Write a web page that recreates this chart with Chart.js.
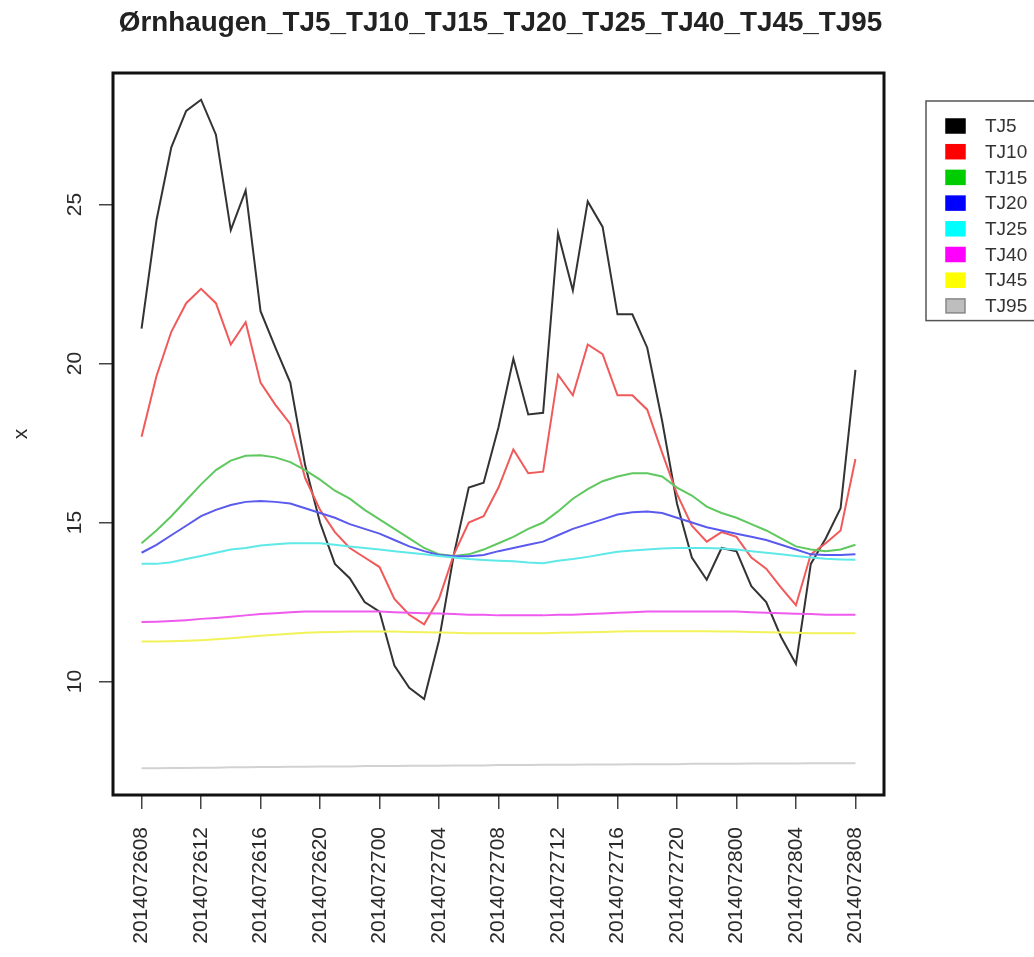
<!DOCTYPE html>
<html>
<head>
<meta charset="utf-8">
<title>Ørnhaugen</title>
<script src="https://cdn.jsdelivr.net/npm/chart.js@4.4.0/dist/chart.umd.min.js"></script>
<style>
  body { margin: 0; background: #fff; }
  canvas { display: block; }
</style>
</head>
<body>
<canvas id="chart" width="1034" height="957"></canvas>
<script>
// ---- data ----
const chartTitle = 'Ørnhaugen_TJ5_TJ10_TJ15_TJ20_TJ25_TJ40_TJ45_TJ95';

const times = [
    '2014072608', '2014072609', '2014072610', '2014072611', '2014072612', '2014072613', '2014072614',
    '2014072615', '2014072616', '2014072617', '2014072618', '2014072619', '2014072620', '2014072621',
    '2014072622', '2014072623', '2014072700', '2014072701', '2014072702', '2014072703', '2014072704',
    '2014072705', '2014072706', '2014072707', '2014072708', '2014072709', '2014072710', '2014072711',
    '2014072712', '2014072713', '2014072714', '2014072715', '2014072716', '2014072717', '2014072718',
    '2014072719', '2014072720', '2014072721', '2014072722', '2014072723', '2014072800', '2014072801',
    '2014072802', '2014072803', '2014072804', '2014072805', '2014072806', '2014072807', '2014072808'
];

const tickLabels = [
    '2014072608', '2014072612', '2014072616', '2014072620', '2014072700', '2014072704', '2014072708',
    '2014072712', '2014072716', '2014072720', '2014072800', '2014072804', '2014072808'
];

const yTicks = [10, 15, 20, 25];

const seriesNames = ['TJ5', 'TJ10', 'TJ15', 'TJ20', 'TJ25', 'TJ40', 'TJ45', 'TJ95'];

const tj5 = [21.1, 24.5, 26.8, 27.95, 28.3, 27.2, 24.2, 25.45, 21.65, 20.5,
    19.4, 16.8, 15.0, 13.7, 13.25, 12.5, 12.2, 10.5, 9.8, 9.45,
    11.3, 14.0, 16.1, 16.25, 18.0, 20.15, 18.4, 18.45, 24.1, 22.3,
    25.1, 24.3, 21.55, 21.55, 20.5, 18.2, 15.6, 13.9, 13.2, 14.2,
    14.1, 13.0, 12.5, 11.4, 10.55, 13.7, 14.5, 15.45, 19.8];

const tj10 = [17.7, 19.6, 21.0, 21.9, 22.35, 21.9, 20.6, 21.3, 19.4, 18.7,
    18.1, 16.4, 15.4, 14.7, 14.2, 13.9, 13.6, 12.6, 12.1, 11.8,
    12.6, 14.0, 15.0, 15.2, 16.1, 17.3, 16.55, 16.6, 19.65, 19.0,
    20.6, 20.3, 19.0, 19.0, 18.55, 17.2, 15.9, 14.9, 14.4, 14.7,
    14.55, 13.9, 13.55, 12.95, 12.4, 14.0, 14.35, 14.75, 17.0];

const tj15 = [14.35, 14.75, 15.2, 15.7, 16.2, 16.65, 16.95, 17.1, 17.12, 17.05,
    16.9, 16.65, 16.35, 16.0, 15.75, 15.4, 15.1, 14.8, 14.5, 14.2,
    14.0, 13.95, 14.0, 14.15, 14.35, 14.55, 14.8, 15.0, 15.35, 15.75,
    16.05, 16.3, 16.45, 16.55, 16.55, 16.45, 16.1, 15.85, 15.5, 15.3,
    15.15, 14.95, 14.75, 14.5, 14.25, 14.15, 14.1, 14.15, 14.3];

const tj20 = [14.05, 14.3, 14.6, 14.9, 15.2, 15.4, 15.55, 15.65, 15.68, 15.65,
    15.6, 15.45, 15.3, 15.15, 14.95, 14.8, 14.65, 14.45, 14.25, 14.1,
    13.98, 13.94, 13.94, 13.98, 14.1, 14.2, 14.3, 14.4, 14.6, 14.8,
    14.95, 15.1, 15.25, 15.32, 15.35, 15.3, 15.15, 15.0, 14.85, 14.75,
    14.65, 14.55, 14.45, 14.3, 14.15, 14.0, 13.98, 13.98, 14.0];

const tj25 = [13.7, 13.7, 13.75, 13.85, 13.95, 14.05, 14.15, 14.2, 14.28, 14.32,
    14.35, 14.35, 14.35, 14.3, 14.25, 14.2, 14.15, 14.1, 14.05, 14.0,
    13.95, 13.9, 13.85, 13.82, 13.8, 13.78, 13.74, 13.72, 13.8, 13.85,
    13.92, 14.0, 14.08, 14.12, 14.15, 14.18, 14.2, 14.2, 14.2, 14.18,
    14.15, 14.1, 14.05, 14.0, 13.95, 13.9, 13.86, 13.84, 13.83];

const tj40 = [11.87, 11.88, 11.9, 11.93, 11.97, 12.0, 12.04, 12.08, 12.12, 12.15,
    12.18, 12.2, 12.2, 12.2, 12.2, 12.2, 12.2, 12.18, 12.16, 12.15,
    12.14, 12.12, 12.1, 12.1, 12.08, 12.08, 12.08, 12.08, 12.1, 12.1,
    12.12, 12.14, 12.16, 12.18, 12.2, 12.2, 12.2, 12.2, 12.2, 12.2,
    12.2, 12.18, 12.16, 12.15, 12.13, 12.12, 12.1, 12.1, 12.1];

const tj45 = [11.26, 11.26, 11.27, 11.28, 11.3, 11.33, 11.36, 11.4, 11.44, 11.47,
    11.5, 11.53, 11.55, 11.56, 11.57, 11.57, 11.57, 11.57, 11.56, 11.55,
    11.54, 11.53, 11.52, 11.52, 11.52, 11.52, 11.52, 11.52, 11.53, 11.54,
    11.55, 11.56, 11.57, 11.58, 11.58, 11.58, 11.58, 11.58, 11.58, 11.57,
    11.57, 11.56, 11.55, 11.54, 11.53, 11.52, 11.52, 11.52, 11.52];

const tj95 = [7.27, 7.27, 7.28, 7.28, 7.29, 7.29, 7.3, 7.3, 7.31, 7.31,
    7.32, 7.32, 7.33, 7.33, 7.33, 7.34, 7.34, 7.34, 7.35, 7.35,
    7.35, 7.36, 7.36, 7.36, 7.37, 7.37, 7.37, 7.38, 7.38, 7.38,
    7.39, 7.39, 7.39, 7.4, 7.4, 7.4, 7.4, 7.41, 7.41, 7.41,
    7.41, 7.42, 7.42, 7.42, 7.42, 7.43, 7.43, 7.43, 7.43];

// line colours are a bit softer than the legend squares (thin lines look lighter)
const lineColors = ['#333333', '#f05a5a', '#5fc85f', '#5a5aee', '#5ee8e8', '#ee5aee', '#f2f25a', '#d2d2d2'];
const legendColors = ['#000000', '#ff0000', '#00cd00', '#0000ff', '#00ffff', '#ff00ff', '#ffff00', '#bebebe'];

const seriesData = [tj5, tj10, tj15, tj20, tj25, tj40, tj45, tj95];

const fontFamily = '"Liberation Sans", Arial, Helvetica, sans-serif';

const datasets = seriesNames.map((name, k) => ({
    label: name,
    data: seriesData[k].map((v, i) => ({ x: i, y: v })),
    borderColor: lineColors[k],
    backgroundColor: lineColors[k],
    borderWidth: 2,
    pointRadius: 0,
    tension: 0,
    fill: false,
    order: seriesNames.length - k
}));

// box around the plot region, like R's box()
const plotBox = {
    id: 'plotBox',
    afterDatasetsDraw(chart) {
        const { ctx, chartArea: a } = chart;
        ctx.save();
        ctx.strokeStyle = '#111';
        ctx.lineWidth = 3;
        ctx.strokeRect(a.left, a.top, a.right - a.left, a.bottom - a.top);
        ctx.restore();
    }
};

// main title
const mainTitle = {
    id: 'mainTitle',
    afterDraw(chart) {
        const { ctx, chartArea: a } = chart;
        ctx.save();
        ctx.font = 'bold 27.8px ' + fontFamily;
        ctx.fillStyle = '#222';
        ctx.textAlign = 'center';
        ctx.textBaseline = 'middle';
        ctx.fillText(chartTitle, (a.left + a.right) / 2 + 2, 23);
        ctx.restore();
    }
};

// legend box on the right
const sideLegend = {
    id: 'sideLegend',
    afterDraw(chart) {
        const { ctx, chartArea: a } = chart;
        const left = a.right + 42;
        const top = a.top + 28;
        const rowH = 25.7;
        ctx.save();
        ctx.strokeStyle = '#555';
        ctx.lineWidth = 1.5;
        ctx.strokeRect(left, top, 160, rowH * seriesNames.length + 14);
        ctx.font = '19px ' + fontFamily;
        ctx.textBaseline = 'middle';
        ctx.textAlign = 'left';
        seriesNames.forEach((name, k) => {
            const y = top + 25 + k * rowH;
            ctx.fillStyle = legendColors[k];
            ctx.fillRect(left + 20, y - 7, 19, 14);
            ctx.strokeStyle = k === 7 ? '#888' : legendColors[k];
            ctx.lineWidth = 1.5;
            ctx.strokeRect(left + 20, y - 7, 19, 14);
            ctx.fillStyle = '#333';
            ctx.fillText(name, left + 59, y + 1);
        });
        ctx.restore();
    }
};

const ctx = document.getElementById('chart').getContext('2d');
new Chart(ctx, {
    type: 'line',
    data: { datasets: datasets },
    options: {
        responsive: false,
        animation: false,
        devicePixelRatio: 1,
        layout: { padding: { left: 0, top: 73, right: 150, bottom: 0 } },
        plugins: {
            legend: { display: false },
            tooltip: { enabled: false }
        },
        scales: {
            x: {
                type: 'linear',
                min: -1.92,
                max: 49.92,
                afterBuildTicks: (axis) => {
                    axis.ticks = tickLabels.map(t => ({ value: times.indexOf(t) }));
                },
                afterFit: (scale) => { scale.height = 162; },
                grid: {
                    drawOnChartArea: false,
                    drawTicks: true,
                    tickLength: 14,
                    color: '#444',
                    lineWidth: 1.5
                },
                border: { display: false },
                ticks: {
                    autoSkip: false,
                    minRotation: 90,
                    maxRotation: 90,
                    padding: 18,
                    color: '#2a2a2a',
                    font: { family: fontFamily, size: 21 },
                    callback: (value) => times[value]
                }
            },
            y: {
                type: 'linear',
                min: 6.43,
                max: 29.14,
                afterBuildTicks: (axis) => {
                    axis.ticks = yTicks.map(v => ({ value: v }));
                },
                afterFit: (scale) => { scale.width = 113; },
                grid: {
                    drawOnChartArea: false,
                    drawTicks: true,
                    tickLength: 14,
                    color: '#444',
                    lineWidth: 1.5
                },
                border: { display: false },
                title: {
                    display: true,
                    text: 'x',
                    color: '#2a2a2a',
                    font: { family: fontFamily, size: 21 },
                    padding: { top: 9, bottom: 0 }
                },
                ticks: {
                    minRotation: 90,
                    maxRotation: 90,
                    crossAlign: 'center',
                    padding: 12,
                    color: '#2a2a2a',
                    font: { family: fontFamily, size: 21 },
                    callback: (value) => String(value)
                }
            }
        }
    },
    plugins: [plotBox, mainTitle, sideLegend]
});
</script>
</body>
</html>
